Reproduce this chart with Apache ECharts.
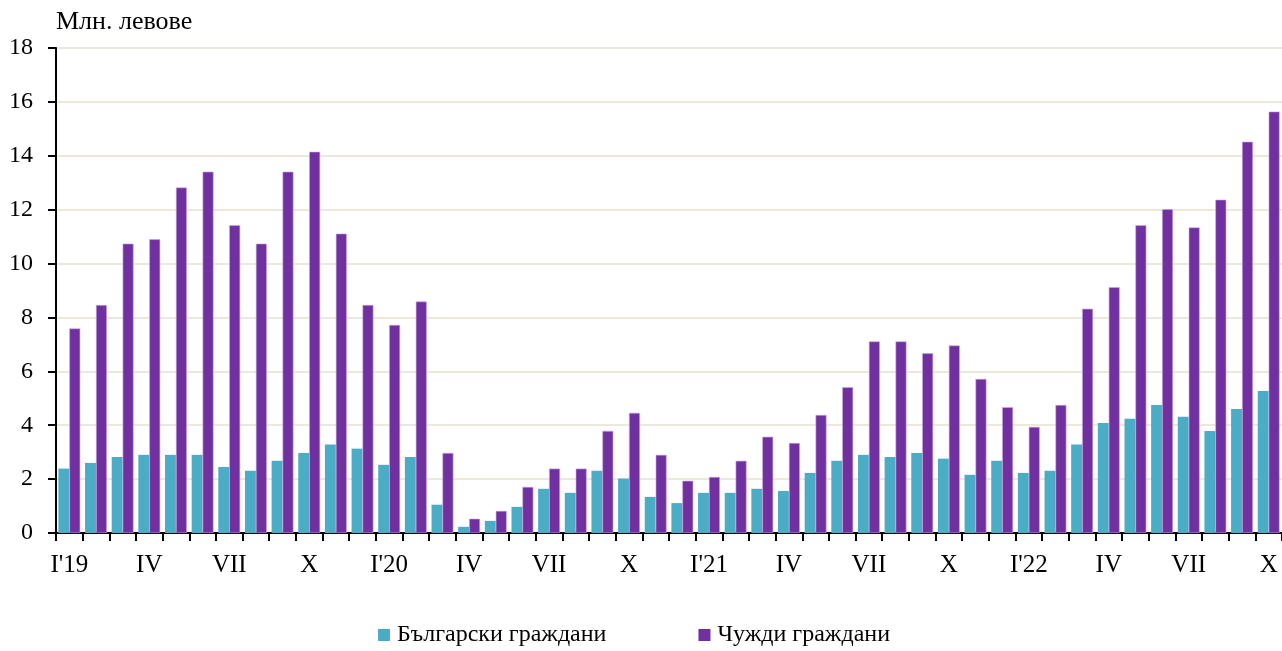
<!DOCTYPE html>
<html>
<head>
<meta charset="utf-8">
<script src="https://cdn.jsdelivr.net/npm/echarts@6/dist/echarts.min.js"></script>
<style>
  html, body { margin: 0; padding: 0; background: #fff; }
  #chart { width: 1282px; height: 651px; }
</style>
</head>
<body>
<div id="chart"></div>
<script>
// months Jan 2019 - Oct 2022
var months = [
  "I'19", 'II', 'III', 'IV', 'V', 'VI', 'VII', 'VIII', 'IX', 'X', 'XI', 'XII',
  "I'20", 'II', 'III', 'IV', 'V', 'VI', 'VII', 'VIII', 'IX', 'X', 'XI', 'XII',
  "I'21", 'II', 'III', 'IV', 'V', 'VI', 'VII', 'VIII', 'IX', 'X', 'XI', 'XII',
  "I'22", 'II', 'III', 'IV', 'V', 'VI', 'VII', 'VIII', 'IX', 'X'
]

var bulgarian = [
  2.39, 2.60, 2.82, 2.90, 2.90, 2.90, 2.45, 2.31, 2.68, 2.97, 3.28, 3.13,
  2.53, 2.82, 1.05, 0.23, 0.45, 0.97, 1.64, 1.49, 2.31, 2.02, 1.34, 1.11,
  1.49, 1.49, 1.64, 1.56, 2.23, 2.68, 2.90, 2.82, 2.97, 2.76, 2.16, 2.68,
  2.23, 2.31, 3.28, 4.08, 4.24, 4.75, 4.31, 3.79, 4.60, 5.27
]

var foreign = [
  7.59, 8.46, 10.74, 10.90, 12.82, 13.41, 11.42, 10.74, 13.41, 14.15, 11.11, 8.46,
  7.72, 8.59, 2.97, 0.53, 0.82, 1.71, 2.39, 2.39, 3.79, 4.46, 2.90, 1.94,
  2.08, 2.68, 3.57, 3.34, 4.38, 5.41, 7.11, 7.11, 6.67, 6.96, 5.72, 4.67,
  3.94, 4.75, 8.32, 9.12, 11.42, 12.02, 11.34, 12.37, 14.52, 15.64
]

var seriesNames = ['Български граждани', 'Чужди граждани']
var font = '"Liberation Serif", "Times New Roman", serif'

var chart = echarts.init(document.getElementById('chart'), null, { renderer: 'canvas' })

chart.setOption({
  animation: false,
  textStyle: { fontFamily: font },
  title: {
    text: 'Млн. левове',
    left: 56,
    top: 9,
    padding: 0,
    textStyle: { fontFamily: font, fontSize: 26, fontWeight: 'normal', color: '#000' }
  },
  legend: {
    data: seriesNames,
    left: 378,
    top: 623,
    padding: 0,
    itemWidth: 12,
    itemHeight: 12,
    itemGap: 92,
    icon: 'rect',
    itemStyle: { borderWidth: 0 },
    textStyle: { fontFamily: font, fontSize: 24, color: '#000', padding: [0, 0, 0, 2] }
  },
  grid: { left: 56, right: 0, top: 48, bottom: 118, containLabel: false },
  xAxis: {
    type: 'category',
    data: months,
    axisLine: { lineStyle: { color: '#000', width: 2 } },
    axisTick: { show: true, interval: 0, length: 8, lineStyle: { color: '#000', width: 2 } },
    axisLabel: { interval: 2, color: '#000', fontSize: 25, margin: 20, fontFamily: font },
    splitLine: { show: false }
  },
  yAxis: {
    type: 'value',
    min: 0,
    max: 18,
    interval: 2,
    axisLine: { show: true, lineStyle: { color: '#000', width: 2 } },
    axisTick: { show: true, length: 8, lineStyle: { color: '#000', width: 2 } },
    axisLabel: { color: '#000', fontSize: 24, margin: 23, fontFamily: font },
    splitLine: { lineStyle: { color: '#ece8dc', width: 2 } }
  },
  series: [
    {
      name: seriesNames[0],
      type: 'bar',
      data: bulgarian,
      barGap: '0%',
      barCategoryGap: '18%',
      itemStyle: { color: '#4bacc6' }
    },
    {
      name: seriesNames[1],
      type: 'bar',
      data: foreign,
      itemStyle: { color: '#7030a0', borderColor: '#c9a8e0', borderWidth: 0.6 }
    }
  ]
})
</script>
</body>
</html>
